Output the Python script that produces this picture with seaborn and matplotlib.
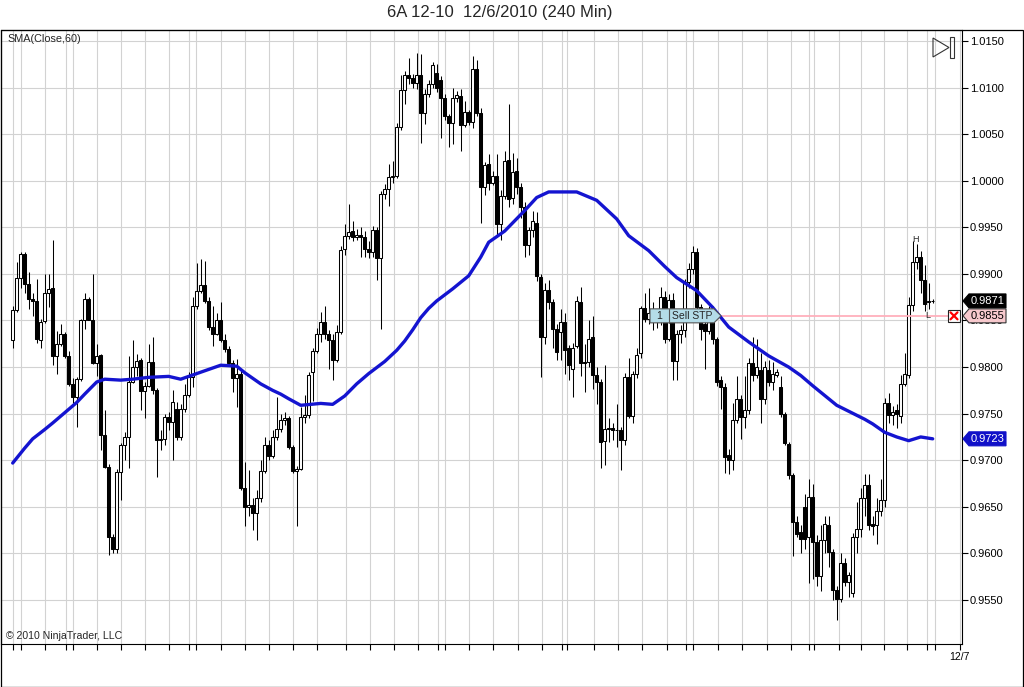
import numpy as np
import matplotlib
matplotlib.use("Agg")
import matplotlib.pyplot as plt
import seaborn as sns
from matplotlib.patches import Polygon, Rectangle
from matplotlib.lines import Line2D
from matplotlib.transforms import IdentityTransform

# ---------------- data (240-min bars, 6A 12-10) ----------------
opens = [
    0.9829, 0.9861, 0.9896, 0.9921, 0.9889, 0.9873, 0.9871, 0.9829, 0.9849, 0.9880,
    0.9885, 0.9812, 0.9825, 0.9836, 0.9812, 0.9782, 0.9768, 0.9787, 0.9851, 0.9873,
    0.9851, 0.9804, 0.9813, 0.9727, 0.9693, 0.9618, 0.9605, 0.9687, 0.9716, 0.9725,
    0.9784, 0.9800, 0.9808, 0.9774, 0.9780, 0.9805, 0.9775, 0.9722, 0.9723, 0.9746,
    0.9741, 0.9755, 0.9725, 0.9755, 0.9770, 0.9789, 0.9866, 0.9882, 0.9888, 0.9871,
    0.9843, 0.9836, 0.9851, 0.9829, 0.9819, 0.9804, 0.9788, 0.9793, 0.9670, 0.9650,
    0.9652, 0.9643, 0.9659, 0.9688, 0.9716, 0.9705, 0.9725, 0.9734, 0.9743, 0.9745,
    0.9714, 0.9688, 0.9691, 0.9746, 0.9749, 0.9795, 0.9817, 0.9836, 0.9848, 0.9836,
    0.9829, 0.9808, 0.9838, 0.9927, 0.9941, 0.9946, 0.9940, 0.9942, 0.9940, 0.9927,
    0.9924, 0.9947, 0.9917, 0.9986, 0.9991, 1.0004, 1.0005, 1.0058, 1.0097, 1.0114,
    1.0110, 1.0105, 1.0114, 1.0073, 1.0093, 1.0104, 1.0116, 1.0108, 1.0089, 1.0070,
    1.0062, 1.0089, 1.0091, 1.0060, 1.0074, 1.0063, 1.0120, 1.0073, 0.9993, 1.0018,
    0.9998, 1.0005, 0.9954, 0.9984, 1.0022, 0.9982, 1.0010, 0.9993, 0.9972, 0.9931,
    0.9947, 0.9955, 0.9897, 0.9832, 0.9883, 0.9870, 0.9841, 0.9838, 0.9848, 0.9821,
    0.9798, 0.9823, 0.9870, 0.9805, 0.9805, 0.9832, 0.9791, 0.9784, 0.9721, 0.9734,
    0.9735, 0.9733, 0.9732, 0.9722, 0.9789, 0.9748, 0.9793, 0.9815, 0.9863, 0.9852,
    0.9858, 0.9850, 0.9856, 0.9875, 0.9830, 0.9872, 0.9807, 0.9836, 0.9840, 0.9891,
    0.9905, 0.9923, 0.9864, 0.9846, 0.9839, 0.9860, 0.9830, 0.9786, 0.9779, 0.9706,
    0.9700, 0.9743, 0.9766, 0.9746, 0.9754, 0.9804, 0.9791, 0.9797, 0.9766, 0.9797,
    0.9784, 0.9791, 0.9779, 0.9750, 0.9717, 0.9684, 0.9634, 0.9623, 0.9650, 0.9618,
    0.9661, 0.9612, 0.9576, 0.9614, 0.9631, 0.9602, 0.9561, 0.9551, 0.9590, 0.9569,
    0.9557, 0.9618, 0.9626, 0.9659, 0.9673, 0.9632, 0.9630, 0.9646, 0.9657, 0.9761,
    0.9749, 0.9754, 0.9748, 0.9782, 0.9791, 0.9867, 0.9913, 0.9918, 0.9893, 0.9870,
    0.9871,
]
highs = [
    0.9866, 0.9913, 0.9924, 0.9924, 0.9902, 0.9880, 0.9895, 0.9852, 0.9900, 0.9900,
    0.9936, 0.9839, 0.9846, 0.9838, 0.9817, 0.9788, 0.9789, 0.9852, 0.9880, 0.9875,
    0.9900, 0.9825, 0.9814, 0.9754, 0.9696, 0.9621, 0.9691, 0.9718, 0.9730, 0.9812,
    0.9829, 0.9814, 0.9810, 0.9784, 0.9825, 0.9832, 0.9778, 0.9732, 0.9750, 0.9752,
    0.9775, 0.9762, 0.9760, 0.9782, 0.9795, 0.9875, 0.9912, 0.9916, 0.9914, 0.9875,
    0.9866, 0.9858, 0.9870, 0.9835, 0.9823, 0.9808, 0.9809, 0.9797, 0.9698, 0.9690,
    0.9660, 0.9668, 0.9700, 0.9725, 0.9722, 0.9732, 0.9768, 0.9750, 0.9752, 0.9748,
    0.9716, 0.9694, 0.9757, 0.9770, 0.9795, 0.9820, 0.9842, 0.9859, 0.9866, 0.9840,
    0.9835, 0.9845, 0.9930, 0.9954, 0.9975, 0.9957, 0.9948, 0.9950, 0.9946, 0.9935,
    0.9951, 0.9950, 0.9989, 0.9996, 1.0018, 1.0021, 1.0062, 1.0114, 1.0118, 1.0132,
    1.0115, 1.0137, 1.0136, 1.0098, 1.0108, 1.0127, 1.0125, 1.0112, 1.0093, 1.0072,
    1.0100, 1.0096, 1.0098, 1.0086, 1.0076, 1.0134, 1.0130, 1.0078, 1.0020, 1.0029,
    1.0010, 1.0029, 0.9990, 1.0032, 1.0082, 1.0030, 1.0024, 0.9998, 0.9977, 0.9950,
    0.9968, 0.9966, 0.9900, 0.9890, 0.9894, 0.9873, 0.9846, 0.9862, 0.9858, 0.9824,
    0.9826, 0.9876, 0.9886, 0.9825, 0.9851, 0.9855, 0.9800, 0.9787, 0.9802, 0.9745,
    0.9740, 0.9760, 0.9736, 0.9794, 0.9810, 0.9796, 0.9820, 0.9866, 0.9880, 0.9885,
    0.9870, 0.9862, 0.9886, 0.9882, 0.9878, 0.9880, 0.9840, 0.9845, 0.9895, 0.9912,
    0.9930, 0.9928, 0.9868, 0.9850, 0.9866, 0.9866, 0.9832, 0.9790, 0.9783, 0.9712,
    0.9761, 0.9790, 0.9770, 0.9790, 0.9810, 0.9832, 0.9830, 0.9815, 0.9806, 0.9808,
    0.9805, 0.9798, 0.9790, 0.9752, 0.9720, 0.9686, 0.9640, 0.9630, 0.9664, 0.9680,
    0.9675, 0.9620, 0.9630, 0.9640, 0.9640, 0.9605, 0.9565, 0.9600, 0.9595, 0.9580,
    0.9622, 0.9655, 0.9670, 0.9685, 0.9685, 0.9640, 0.9660, 0.9680, 0.9767, 0.9772,
    0.9758, 0.9760, 0.9792, 0.9815, 0.9875, 0.9935, 0.9932, 0.9925, 0.9910, 0.9890,
    0.9873,
]
lows = [
    0.9821, 0.9859, 0.9885, 0.9880, 0.9862, 0.9855, 0.9826, 0.9821, 0.9847, 0.9864,
    0.9802, 0.9793, 0.9823, 0.9810, 0.9780, 0.9761, 0.9736, 0.9785, 0.9841, 0.9850,
    0.9803, 0.9790, 0.9711, 0.9692, 0.9598, 0.9600, 0.9600, 0.9657, 0.9700, 0.9692,
    0.9783, 0.9790, 0.9754, 0.9745, 0.9779, 0.9771, 0.9682, 0.9711, 0.9716, 0.9732,
    0.9700, 0.9722, 0.9722, 0.9752, 0.9768, 0.9779, 0.9862, 0.9880, 0.9869, 0.9840,
    0.9823, 0.9834, 0.9827, 0.9816, 0.9801, 0.9773, 0.9757, 0.9668, 0.9629, 0.9640,
    0.9625, 0.9614, 0.9655, 0.9686, 0.9700, 0.9702, 0.9722, 0.9730, 0.9738, 0.9712,
    0.9686, 0.9629, 0.9689, 0.9740, 0.9745, 0.9764, 0.9815, 0.9827, 0.9830, 0.9798,
    0.9786, 0.9805, 0.9835, 0.9920, 0.9938, 0.9935, 0.9936, 0.9918, 0.9918, 0.9917,
    0.9918, 0.9893, 0.9841, 0.9980, 0.9973, 0.9998, 1.0003, 1.0055, 1.0082, 1.0104,
    1.0100, 1.0098, 1.0041, 1.0061, 1.0090, 1.0100, 1.0095, 1.0046, 1.0065, 1.0036,
    1.0039, 1.0085, 1.0032, 1.0058, 1.0060, 1.0057, 1.0070, 0.9955, 0.9985, 0.9990,
    0.9995, 0.9940, 0.9936, 0.9980, 0.9972, 0.9975, 0.9986, 0.9960, 0.9918, 0.9920,
    0.9940, 0.9892, 0.9789, 0.9825, 0.9862, 0.9820, 0.9808, 0.9808, 0.9793, 0.9786,
    0.9768, 0.9820, 0.9790, 0.9773, 0.9800, 0.9776, 0.9760, 0.9692, 0.9695, 0.9720,
    0.9722, 0.9714, 0.9690, 0.9716, 0.9745, 0.9740, 0.9788, 0.9810, 0.9848, 0.9846,
    0.9840, 0.9842, 0.9845, 0.9826, 0.9828, 0.9786, 0.9786, 0.9826, 0.9832, 0.9885,
    0.9900, 0.9860, 0.9829, 0.9798, 0.9835, 0.9825, 0.9780, 0.9755, 0.9686, 0.9685,
    0.9690, 0.9740, 0.9723, 0.9735, 0.9750, 0.9785, 0.9788, 0.9740, 0.9760, 0.9780,
    0.9775, 0.9789, 0.9746, 0.9716, 0.9680, 0.9597, 0.9618, 0.9600, 0.9605, 0.9568,
    0.9573, 0.9565, 0.9560, 0.9600, 0.9585, 0.9550, 0.9529, 0.9548, 0.9565, 0.9553,
    0.9553, 0.9600, 0.9618, 0.9640, 0.9625, 0.9620, 0.9610, 0.9640, 0.9650, 0.9740,
    0.9738, 0.9735, 0.9740, 0.9780, 0.9788, 0.9860, 0.9905, 0.9880, 0.9860, 0.9862,
    0.9869,
]
closes = [
    0.9861, 0.9896, 0.9921, 0.9889, 0.9873, 0.9871, 0.9830, 0.9848, 0.9880, 0.9884,
    0.9812, 0.9825, 0.9836, 0.9812, 0.9782, 0.9768, 0.9787, 0.9851, 0.9873, 0.9851,
    0.9804, 0.9812, 0.9727, 0.9693, 0.9618, 0.9605, 0.9687, 0.9716, 0.9725, 0.9784,
    0.9800, 0.9807, 0.9774, 0.9780, 0.9805, 0.9775, 0.9722, 0.9723, 0.9746, 0.9741,
    0.9762, 0.9725, 0.9755, 0.9770, 0.9789, 0.9866, 0.9882, 0.9888, 0.9871, 0.9843,
    0.9836, 0.9851, 0.9829, 0.9819, 0.9804, 0.9788, 0.9793, 0.9670, 0.9650, 0.9652,
    0.9643, 0.9659, 0.9688, 0.9716, 0.9705, 0.9725, 0.9734, 0.9743, 0.9745, 0.9714,
    0.9688, 0.9691, 0.9746, 0.9749, 0.9791, 0.9817, 0.9836, 0.9848, 0.9836, 0.9829,
    0.9808, 0.9838, 0.9926, 0.9941, 0.9945, 0.9940, 0.9942, 0.9940, 0.9927, 0.9924,
    0.9947, 0.9917, 0.9986, 0.9991, 1.0004, 1.0005, 1.0058, 1.0097, 1.0113, 1.0110,
    1.0105, 1.0114, 1.0073, 1.0093, 1.0104, 1.0124, 1.0100, 1.0089, 1.0070, 1.0062,
    1.0089, 1.0092, 1.0060, 1.0074, 1.0063, 1.0120, 1.0073, 0.9993, 1.0017, 0.9998,
    1.0005, 0.9954, 0.9984, 1.0021, 0.9980, 1.0009, 0.9993, 0.9972, 0.9931, 0.9947,
    0.9957, 0.9898, 0.9832, 0.9883, 0.9870, 0.9841, 0.9816, 0.9848, 0.9818, 0.9802,
    0.9821, 0.9871, 0.9804, 0.9804, 0.9830, 0.9791, 0.9784, 0.9720, 0.9734, 0.9735,
    0.9733, 0.9732, 0.9722, 0.9789, 0.9748, 0.9793, 0.9813, 0.9863, 0.9852, 0.9858,
    0.9850, 0.9856, 0.9875, 0.9830, 0.9872, 0.9807, 0.9836, 0.9840, 0.9891, 0.9905,
    0.9923, 0.9864, 0.9841, 0.9839, 0.9862, 0.9830, 0.9784, 0.9779, 0.9704, 0.9700,
    0.9743, 0.9766, 0.9746, 0.9754, 0.9804, 0.9791, 0.9800, 0.9766, 0.9800, 0.9784,
    0.9793, 0.9795, 0.9750, 0.9719, 0.9684, 0.9634, 0.9621, 0.9616, 0.9616, 0.9661,
    0.9612, 0.9576, 0.9614, 0.9632, 0.9602, 0.9561, 0.9551, 0.9590, 0.9569, 0.9577,
    0.9618, 0.9626, 0.9659, 0.9673, 0.9630, 0.9629, 0.9646, 0.9657, 0.9761, 0.9749,
    0.9752, 0.9750, 0.9782, 0.9793, 0.9867, 0.9913, 0.9918, 0.9893, 0.9868, 0.9871,
    0.9871,
]

# SMA(Close,60) (bar index, value)
sma_bar = [0, 3, 5, 8, 10, 13, 16, 18, 21, 23, 27, 30, 34, 39, 42, 44, 48, 52, 56, 58,
           60, 62, 65, 67, 69, 72, 77, 80, 83, 86, 89, 93, 96, 98, 100, 102, 104, 106,
           110, 114, 117, 119, 123, 128, 131, 134, 141, 146, 151, 154, 159, 163, 166,
           171, 175, 179, 184, 189, 194, 197, 200, 206, 213, 215, 218, 221, 224, 227, 230]
sma_val = [0.9697, 0.9713, 0.9723, 0.9733, 0.9740, 0.9751, 0.9762, 0.9771, 0.9784, 0.9787,
           0.9786, 0.9787, 0.9789, 0.9790, 0.9787, 0.9790, 0.9796, 0.9802, 0.9801, 0.9794,
           0.9788, 0.9782, 0.9775, 0.9771, 0.9766, 0.9759, 0.9761, 0.9760, 0.9769, 0.9782,
           0.9793, 0.9806, 0.9818, 0.9828, 0.9840, 0.9853, 0.9863, 0.9871, 0.9884, 0.9898,
           0.9918, 0.9934, 0.9946, 0.9968, 0.9982, 0.9988, 0.9988, 0.9979, 0.9959, 0.9941,
           0.9925, 0.9908, 0.9896, 0.9882, 0.9864, 0.9843, 0.9827, 0.9812, 0.9800, 0.9791,
           0.9780, 0.9759, 0.9744, 0.9739, 0.9730, 0.9725, 0.9721, 0.9725, 0.9723]

price_ticks = [0.9550, 0.9600, 0.9650, 0.9700, 0.9750, 0.9800, 0.9850, 0.9900,
               0.9950, 1.0000, 1.0050, 1.0100, 1.0150]
session_bars = [0, 2, 8, 13.4, 15, 21, 27, 33, 39, 44.1, 45.7, 52, 58, 64, 70, 76, 83.4,
                89.3, 95.3, 101.4, 106.3, 108, 114, 120, 126.2, 132.4, 137.3, 138.6,
                145.2, 151.2, 157.3, 163.5, 168.4, 170, 176.2, 182.4, 188.5, 194.5,
                199.1, 200.4, 206.6, 212.1, 217.7, 223.6, 228.5, 230.5, 236.7]
date_label = "12/7"
order_price = 0.9855
order_qty = "1"
order_name = "Sell STP"
title = "6A 12-10  12/6/2010 (240 Min)"
indicator_name = "SMA(Close,60)"

# ---------------- figure ----------------
sns.set_theme(style="white")
plt.rcParams['font.family'] = ['Liberation Sans', 'DejaVu Sans']

W, H = 1024, 687
fig = plt.figure(figsize=(W / 100, H / 100), dpi=100)
fig.patch.set_facecolor('white')

LPX, RPX, TPX, BPX = 1, 962, 30, 644
ax = fig.add_axes([LPX / W, 1 - BPX / H, (RPX - LPX) / W, (BPX - TPX) / H])
ax.set_facecolor('white')

o = np.array(opens); h = np.array(highs); l = np.array(lows); c = np.array(closes)
idx = np.arange(len(c))
up = c >= o

ax.vlines(idx, l, h, color='black', lw=0.75, zorder=2)
ax.bar(idx[up], (c - o)[up], bottom=o[up], width=0.72, color='white',
       edgecolor='black', linewidth=0.75, zorder=3)
ax.bar(idx[~up], (o - c)[~up], bottom=c[~up], width=0.72, color='black',
       edgecolor='black', linewidth=0.75, zorder=3)

sns.lineplot(x=sma_bar, y=sma_val, ax=ax, color='#1414d0', lw=2.4, zorder=5)
for ln in ax.lines:
    ln.set_solid_joinstyle('round')
    ln.set_solid_capstyle('round')

# bar 0 sits at x=12.7 px; 4 px per bar
x0 = -(12.7 - LPX) / 4.0
x1 = (RPX - 12.7) / 4.0
ax.set_xlim(x0, x1)
ppx = 0.06 / 559.0
ax.set_ylim(0.9550 - (BPX - 600) * ppx, 1.0150 + (41 - TPX) * ppx)

ax.yaxis.tick_right()
ax.set_yticks(price_ticks)
ax.set_yticklabels([f"{t:.4f}" for t in price_ticks])
ax.set_xticks(session_bars)
ax.set_xticklabels([''] * (len(session_bars) - 1) + [date_label])
ax.grid(True, color='#d2d2d2', lw=0.8)
ax.set_axisbelow(True)
ax.tick_params(axis='y', direction='out', length=4, width=0.8, colors='black',
               labelsize=8, pad=1.5, right=True, left=False)
ax.tick_params(axis='x', direction='out', length=4, width=0.8, colors='black',
               labelsize=7.5, pad=2, bottom=True)
for s in ax.spines.values():
    s.set_color('black'); s.set_linewidth(0.8)
ax.set_xlabel(''); ax.set_ylabel('')

# order line
ax.hlines(order_price, (721 - 12.7) / 4, (948 - 12.7) / 4, color='#ffb0bc', lw=1.3, zorder=4)

ID = IdentityTransform()
fig.canvas.draw()


def ypx(p):
    return ax.transData.transform((0, p))[1]


# texts
fig.text(500 / W, 1 - 12 / H, title, ha='center', va='center', fontsize=12)
fig.text(7 / W, 1 - 39 / H, indicator_name, ha='left', va='center', fontsize=7.8)
fig.text(6 / W, 1 - 636 / H, "\u00a9 2010 NinjaTrader, LLC", ha='left', va='center', fontsize=7.6)

# outer frame
fig.add_artist(Rectangle((0.5, 0.5), W - 1.2, H - TPX - 0.5, transform=ID, fill=False,
                         ec='black', lw=0.9, zorder=1))

# top-right icon
fig.add_artist(Polygon([(933, H - 38), (933, H - 57), (949, H - 47.5)], closed=True,
                       transform=ID, fill=False, ec='#333333', lw=0.8))
fig.add_artist(Rectangle((950, H - 57.5), 3.5, 20.5, transform=ID, fill=False,
                         ec='#333333', lw=0.8))


def tag(p, fc, tc, ec):
    yc = ypx(p)
    poly = [(963, yc), (969, yc + 7), (1006, yc + 7), (1006, yc - 7), (969, yc - 7)]
    fig.add_artist(Polygon(poly, closed=True, transform=ID, fc=fc, ec=ec, lw=0.8, zorder=5))
    fig.text(971 / W, yc / H, f"{p:.4f}", color=tc, fontsize=8, ha='left', va='center', zorder=6)


tag(closes[-1], 'black', 'white', 'black')
tag(order_price, '#f7c9cd', 'black', '#333333')
tag(sma_val[-1], '#1010c8', 'white', '#1010c8')

# cancel box with red X
yo = ypx(order_price)
fig.add_artist(Rectangle((948, yo - 6), 12, 12, transform=ID, fc='white', ec='#222222',
                         lw=0.8, zorder=5))
fig.add_artist(Line2D([950.5, 957.5], [yo - 3.5, yo + 3.5], transform=ID, color='red', lw=1.6, zorder=6))
fig.add_artist(Line2D([950.5, 957.5], [yo + 3.5, yo - 3.5], transform=ID, color='red', lw=1.6, zorder=6))

# order label "1 | Sell STP"
lab = [(650, yo + 7), (714, yo + 7), (721, yo), (714, yo - 7), (650, yo - 7)]
fig.add_artist(Polygon(lab, closed=True, transform=ID, fc='#b4dce8', ec='#555555',
                       lw=0.8, zorder=5))
fig.add_artist(Line2D([669, 669], [yo - 7, yo + 7], transform=ID, color='#555555', lw=0.8, zorder=6))
fig.text(659.5 / W, yo / H, order_qty, ha='center', va='center', fontsize=7.5, zorder=6)
fig.text(672 / W, yo / H, order_name, ha='left', va='center', fontsize=7.5, zorder=6)

# H / L markers
fig.text(915.5 / W, 1 - 240 / H, "H", ha='center', va='center', fontsize=6.5, zorder=6)
fig.text(927.5 / W, 1 - 315 / H, "L", ha='center', va='center', fontsize=6.5, zorder=6)

fig.savefig("out.png", dpi=100)
